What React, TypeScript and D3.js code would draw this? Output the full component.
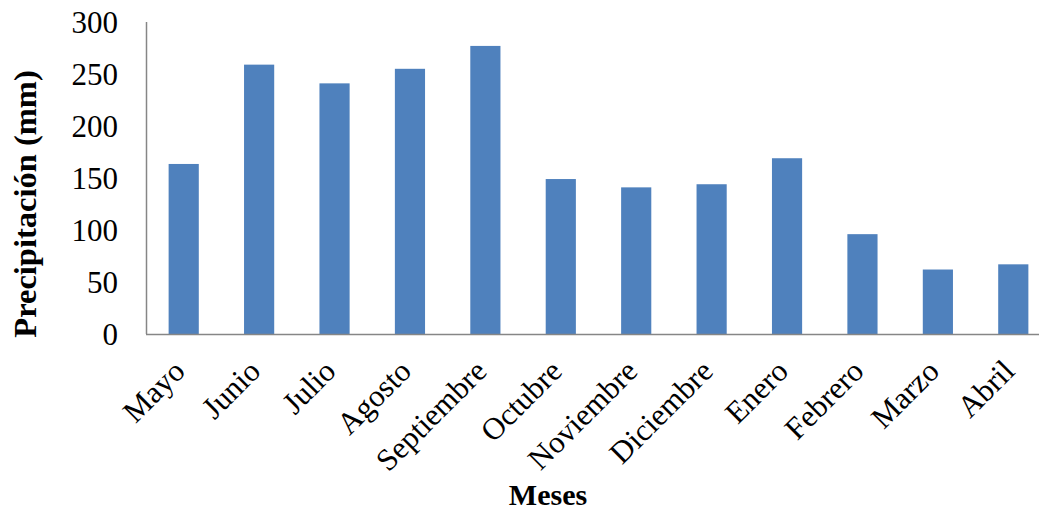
import React from "react";
import * as d3 from "d3";

const months = ["Mayo","Junio","Julio","Agosto","Septiembre","Octubre","Noviembre","Diciembre","Enero","Febrero","Marzo","Abril"];
const precip = [163.5, 259, 241, 255, 277, 149, 141, 144, 169, 96, 62, 67];
const yTicks = [0, 50, 100, 150, 200, 250, 300];

const W = 1039, H = 512;
const left = 146, right = 1051, top = 22, bottom = 334;
const FONT = "'Liberation Serif', 'Times New Roman', serif";

export default function App() {
  const x = d3.scaleBand<string>().domain(months).range([left, right]).paddingInner(0.6).paddingOuter(0.3);
  const y = d3.scaleLinear().domain([0, 300]).range([bottom, top]);
  return (
    <div style={{ position: "absolute", left: 0, top: 0 }}>
      <svg width={W} height={H} style={{ display: "block", background: "#fff" }}>
        {months.map((m, i) => (
          <rect key={m} x={x(m)} y={y(precip[i])} width={x.bandwidth()} height={y(0) - y(precip[i])} fill="#4F81BD" />
        ))}
        <line x1={left} x2={W} y1={bottom + 0.5} y2={bottom + 0.5} stroke="#868686" strokeWidth={1.5} />
        <line x1={left + 0.5} x2={left + 0.5} y1={top} y2={bottom} stroke="#868686" strokeWidth={1.5} />
        {yTicks.map(t => (
          <text key={t} x={118} y={y(t)} dy="0.35em" textAnchor="end" fontFamily={FONT} fontSize={31} fill="#000">{t}</text>
        ))}
        {months.map(m => {
          const cx = (x(m) as number) + x.bandwidth() / 2;
          const ax = cx + 3, ay = 373;
          return (
            <text key={m} x={ax} y={ay} textAnchor="end" transform={`rotate(-45 ${ax} ${ay})`} fontFamily={FONT} fontSize={31} fill="#000">{m}</text>
          );
        })}
        <text x={548} y={505} textAnchor="middle" fontFamily={FONT} fontSize={30} fontWeight="bold" fill="#000">Meses</text>
        <text transform={`translate(36 ${204}) rotate(-90)`} textAnchor="middle" fontFamily={FONT} fontSize={32.5} fontWeight="bold" fill="#000">Precipitación (mm)</text>
      </svg>
    </div>
  );
}
